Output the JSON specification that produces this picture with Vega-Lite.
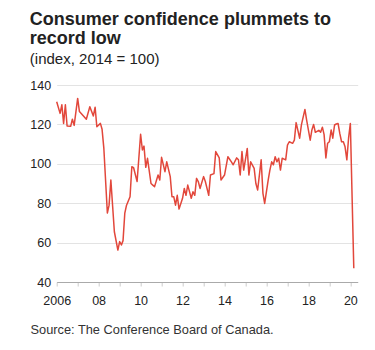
{
  "$schema": "https://vega.github.io/schema/vega-lite/v6.json",
  "autosize": "none",
  "width": 301,
  "height": 197,
  "padding": {"left": 56.7, "top": 85, "right": 17.3, "bottom": 68},
  "background": "white",
  "config": {"view": {"stroke": null}},
  "title": {
    "text": ["Consumer confidence plummets to", "record low"],
    "subtitle": "(index, 2014 = 100)",
    "anchor": "start",
    "frame": "bounds",
    "font": "Liberation Sans",
    "fontSize": 18,
    "fontWeight": "bold",
    "color": "#222222",
    "lineHeight": 19,
    "subtitleFont": "Liberation Sans",
    "subtitleFontSize": 15,
    "subtitleColor": "#222222",
    "subtitlePadding": 4,
    "offset": 12
  },
  "data": {
    "values": [
      {"d": "2006-01-01", "v": 131.5},
      {"d": "2006-03-01", "v": 125.6},
      {"d": "2006-04-01", "v": 130},
      {"d": "2006-05-01", "v": 120.5},
      {"d": "2006-06-01", "v": 130},
      {"d": "2006-07-01", "v": 119.2},
      {"d": "2006-09-01", "v": 119},
      {"d": "2006-10-01", "v": 122.6},
      {"d": "2006-11-01", "v": 119.5},
      {"d": "2007-01-01", "v": 133.2},
      {"d": "2007-02-01", "v": 126.5},
      {"d": "2007-06-01", "v": 122.6},
      {"d": "2007-08-01", "v": 129},
      {"d": "2007-10-01", "v": 124.3},
      {"d": "2007-11-01", "v": 128.7},
      {"d": "2007-12-01", "v": 118.8},
      {"d": "2008-02-01", "v": 120.5},
      {"d": "2008-03-01", "v": 117.5},
      {"d": "2008-04-01", "v": 107.8},
      {"d": "2008-06-01", "v": 75},
      {"d": "2008-07-01", "v": 79},
      {"d": "2008-08-01", "v": 91.8},
      {"d": "2008-10-01", "v": 65.5},
      {"d": "2008-12-01", "v": 56.2},
      {"d": "2009-01-01", "v": 60.5},
      {"d": "2009-02-01", "v": 58.8},
      {"d": "2009-03-01", "v": 61},
      {"d": "2009-04-01", "v": 75},
      {"d": "2009-05-01", "v": 79},
      {"d": "2009-07-01", "v": 83.3},
      {"d": "2009-08-01", "v": 98.5},
      {"d": "2009-09-01", "v": 98},
      {"d": "2009-11-01", "v": 91},
      {"d": "2010-01-01", "v": 115},
      {"d": "2010-02-01", "v": 107},
      {"d": "2010-03-01", "v": 109},
      {"d": "2010-04-01", "v": 98.2},
      {"d": "2010-05-01", "v": 102.8},
      {"d": "2010-07-01", "v": 90},
      {"d": "2010-08-01", "v": 89.2},
      {"d": "2010-09-01", "v": 88.4},
      {"d": "2010-11-01", "v": 94.3},
      {"d": "2010-12-01", "v": 91.8},
      {"d": "2011-01-01", "v": 103.3},
      {"d": "2011-03-01", "v": 96},
      {"d": "2011-04-01", "v": 101},
      {"d": "2011-06-01", "v": 93.5},
      {"d": "2011-07-01", "v": 83.3},
      {"d": "2011-08-01", "v": 83.3},
      {"d": "2011-09-01", "v": 79},
      {"d": "2011-10-01", "v": 84},
      {"d": "2011-11-01", "v": 77},
      {"d": "2012-01-01", "v": 82.5},
      {"d": "2012-02-01", "v": 87.5},
      {"d": "2012-03-01", "v": 84},
      {"d": "2012-04-01", "v": 89.2},
      {"d": "2012-06-01", "v": 82.5},
      {"d": "2012-07-01", "v": 85.8},
      {"d": "2012-08-01", "v": 84},
      {"d": "2012-09-01", "v": 92.6},
      {"d": "2012-10-01", "v": 91},
      {"d": "2012-11-01", "v": 87.5},
      {"d": "2013-01-01", "v": 93.5},
      {"d": "2013-02-01", "v": 91},
      {"d": "2013-04-01", "v": 84},
      {"d": "2013-05-01", "v": 94.3},
      {"d": "2013-07-01", "v": 95},
      {"d": "2013-08-01", "v": 106.2},
      {"d": "2013-10-01", "v": 103},
      {"d": "2013-11-01", "v": 91.8},
      {"d": "2014-01-01", "v": 94.3},
      {"d": "2014-03-01", "v": 103.6},
      {"d": "2014-05-01", "v": 101},
      {"d": "2014-06-01", "v": 99.5},
      {"d": "2014-08-01", "v": 103},
      {"d": "2014-09-01", "v": 102},
      {"d": "2014-10-01", "v": 94.3},
      {"d": "2014-11-01", "v": 106.2},
      {"d": "2014-12-01", "v": 96.8},
      {"d": "2015-02-01", "v": 107.8},
      {"d": "2015-03-01", "v": 94.3},
      {"d": "2015-04-01", "v": 101},
      {"d": "2015-06-01", "v": 97.7},
      {"d": "2015-07-01", "v": 90},
      {"d": "2015-08-01", "v": 86.7},
      {"d": "2015-10-01", "v": 102},
      {"d": "2015-11-01", "v": 85},
      {"d": "2015-12-01", "v": 79.9},
      {"d": "2016-02-01", "v": 91.8},
      {"d": "2016-03-01", "v": 96.8},
      {"d": "2016-04-01", "v": 101},
      {"d": "2016-05-01", "v": 99.5},
      {"d": "2016-06-01", "v": 103.6},
      {"d": "2016-07-01", "v": 101},
      {"d": "2016-08-01", "v": 102.8},
      {"d": "2016-09-01", "v": 96.8},
      {"d": "2016-10-01", "v": 102.8},
      {"d": "2016-12-01", "v": 102},
      {"d": "2017-01-01", "v": 109.5},
      {"d": "2017-02-01", "v": 111.2},
      {"d": "2017-04-01", "v": 110.4},
      {"d": "2017-05-01", "v": 112},
      {"d": "2017-06-01", "v": 120.9},
      {"d": "2017-08-01", "v": 113},
      {"d": "2017-09-01", "v": 119.8},
      {"d": "2017-11-01", "v": 127.6},
      {"d": "2017-12-01", "v": 122.2},
      {"d": "2018-02-01", "v": 112},
      {"d": "2018-03-01", "v": 117},
      {"d": "2018-04-01", "v": 120},
      {"d": "2018-05-01", "v": 116},
      {"d": "2018-07-01", "v": 117},
      {"d": "2018-08-01", "v": 116},
      {"d": "2018-09-01", "v": 118.6},
      {"d": "2018-10-01", "v": 114.8},
      {"d": "2018-11-01", "v": 103},
      {"d": "2018-12-01", "v": 110.4},
      {"d": "2019-01-01", "v": 111.2},
      {"d": "2019-02-01", "v": 117.2},
      {"d": "2019-03-01", "v": 113},
      {"d": "2019-04-01", "v": 119.7},
      {"d": "2019-05-01", "v": 120.2},
      {"d": "2019-06-01", "v": 120.5},
      {"d": "2019-07-01", "v": 115.4},
      {"d": "2019-08-01", "v": 111.2},
      {"d": "2019-09-01", "v": 111.2},
      {"d": "2019-10-01", "v": 108.6},
      {"d": "2019-11-01", "v": 102},
      {"d": "2019-12-01", "v": 113},
      {"d": "2020-01-01", "v": 120.5},
      {"d": "2020-03-01", "v": 47}
    ]
  },
  "mark": {"type": "line", "color": "#e2473b", "strokeWidth": 1.5, "strokeJoin": "round"},
  "encoding": {
    "x": {
      "field": "d",
      "type": "temporal",
      "scale": {
        "type": "utc",
        "domain": [{"year": 2006, "month": 1, "date": 1, "utc": true}, {"year": 2020, "month": 5, "date": 8, "utc": true}]
      },
      "axis": {
        "values": [
          {"year": 2006, "utc": true}, {"year": 2007, "utc": true}, {"year": 2008, "utc": true},
          {"year": 2009, "utc": true}, {"year": 2010, "utc": true}, {"year": 2011, "utc": true},
          {"year": 2012, "utc": true}, {"year": 2013, "utc": true}, {"year": 2014, "utc": true},
          {"year": 2015, "utc": true}, {"year": 2016, "utc": true}, {"year": 2017, "utc": true},
          {"year": 2018, "utc": true}, {"year": 2019, "utc": true}, {"year": 2020, "utc": true}
        ],
        "labelExpr": "utcyear(datum.value) % 2 == 0 ? (utcyear(datum.value) == 2006 ? '2006' : utcFormat(datum.value, '%y')) : ''",
        "grid": false,
        "domainColor": "#aaaaaa",
        "domainWidth": 1,
        "tickColor": "#cccccc",
        "tickSize": 4,
        "labelPadding": 8,
        "labelFont": "Liberation Sans",
        "labelFontSize": 12.5,
        "labelColor": "#222222",
        "labelFlush": false,
        "labelOverlap": false,
        "title": "Source: The Conference Board of Canada.",
        "titleFont": "Liberation Sans",
        "titleFontSize": 12.8,
        "titleFontWeight": "normal",
        "titleColor": "#333333",
        "titleAnchor": "start",
        "titleAlign": "left",
        "titleBaseline": "alphabetic",
        "titleX": -26.7,
        "titleY": 51
      }
    },
    "y": {
      "field": "v",
      "type": "quantitative",
      "scale": {"domain": [40, 140], "nice": false, "zero": false},
      "axis": {
        "values": [40, 60, 80, 100, 120, 140],
        "grid": true,
        "gridColor": "#e3e3e3",
        "gridWidth": 1,
        "domain": false,
        "ticks": false,
        "labelPadding": 6,
        "labelFont": "Liberation Sans",
        "labelFontSize": 12.5,
        "labelColor": "#222222",
        "title": null
      }
    }
  }
}
